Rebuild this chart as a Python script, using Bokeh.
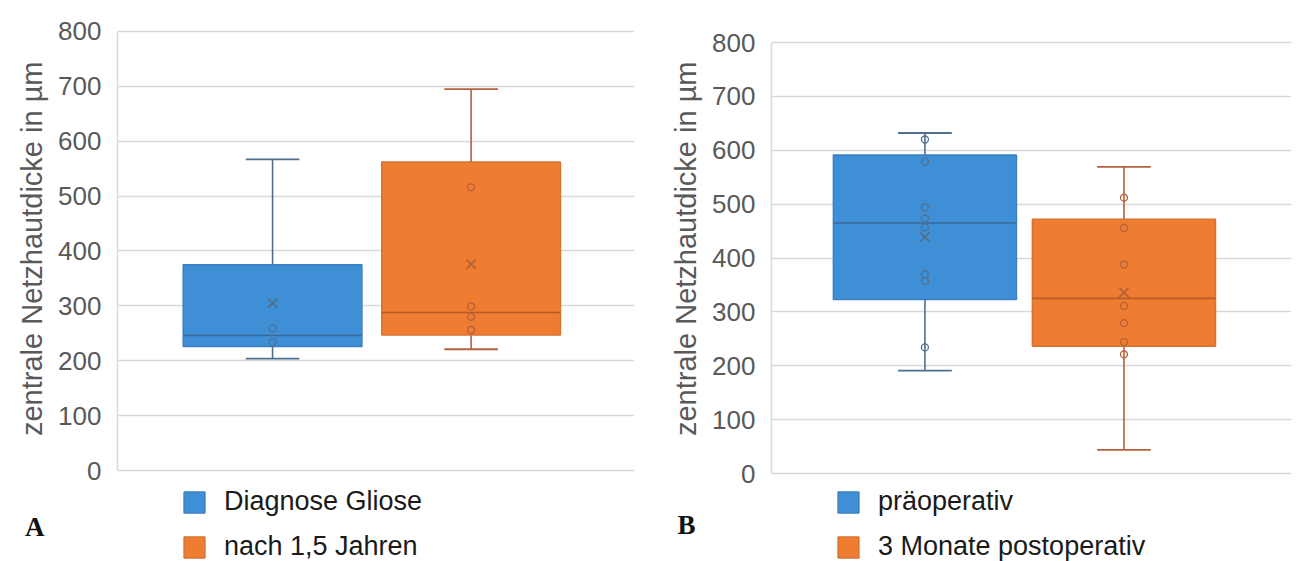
from bokeh.plotting import figure
from bokeh.layouts import row
from bokeh.models import Range1d, FixedTicker, Legend, LegendItem, LinearAxis
from bokeh.embed import file_html
from bokeh.resources import INLINE

# ---------------- data ----------------
y_ticks = [0, 100, 200, 300, 400, 500, 600, 700, 800]
y_title = "zentrale Netzhautdicke in µm"

categories_A = ["Diagnose Gliose", "nach 1,5 Jahren"]
q1_A = [226, 247]
median_A = [246, 288]
q3_A = [375, 562]
lower_A = [204, 221]
upper_A = [567, 695]
mean_A = [305, 376]
points_A = [[259, 234], [516, 299, 280, 256]]

categories_B = ["präoperativ", "3 Monate postoperativ"]
q1_B = [323, 236]
median_B = [465, 325]
q3_B = [591, 472]
lower_B = [191, 44]
upper_B = [632, 569]
mean_B = [439, 336]
points_B = [[620, 579, 494, 473, 457, 370, 357, 234],
            [512, 456, 388, 311, 279, 244, 221]]

panel_letters = ["A", "B"]

# ---------------- style ----------------
FILL = ["#3f8fd6", "#ee7d31"]
EDGE = ["#3a7fc2", "#d8722e"]
DARK = ["#4f6f8f", "#b5603a"]
MED = ["#3a6a98", "#b85a2a"]
FONT = "Liberation Sans"
# non-breaking spaces shift the centred axis title towards the top
TITLE_PAD = "\u00a0" * 8


def make_panel(cats, q1, med, q3, lo, hi, mean, pts, letter, width,
               y_lim, x_lim, bl, br, box_w, legend_xy, letter_y, letter_off):
    p = figure(width=width, height=561, output_backend="svg",
               toolbar_location=None, x_axis_location=None,
               x_range=Range1d(*x_lim), y_range=Range1d(*y_lim),
               min_border_left=bl, min_border_right=br,
               min_border_top=0, min_border_bottom=0)
    p.outline_line_color = None
    p.background_fill_color = "white"
    p.border_fill_color = "white"
    p.xgrid.visible = False
    p.ygrid.ticker = FixedTicker(ticks=y_ticks)
    p.ygrid.grid_line_color = "#d9d9d9"
    p.ygrid.grid_line_width = 1.5
    ax = p.yaxis[0]
    ax.ticker = FixedTicker(ticks=y_ticks)
    ax.bounds = (y_ticks[0], y_ticks[-1])
    ax.major_label_text_font = FONT
    ax.major_label_text_font_size = "26px"
    ax.major_label_text_color = "#595959"
    ax.major_tick_line_color = None
    ax.minor_tick_line_color = None
    ax.major_tick_out = 0
    ax.major_tick_in = 0
    ax.major_label_standoff = 16
    ax.axis_line_color = "#d9d9d9"
    ax.axis_line_width = 1.5
    ax.axis_label = TITLE_PAD + y_title
    ax.axis_label_text_font = FONT
    ax.axis_label_text_font_size = "29px"
    ax.axis_label_text_font_style = "normal"
    ax.axis_label_text_color = "#595959"
    ax.axis_label_standoff = 7

    # panel letter, shown as the single label of an outer axis
    ax2 = LinearAxis(ticker=FixedTicker(ticks=[letter_y]),
                     major_label_overrides={letter_y: letter},
                     axis_line_color=None, major_tick_line_color=None,
                     minor_tick_line_color=None, major_tick_out=0,
                     major_tick_in=0, major_label_standoff=letter_off,
                     major_label_text_font="Liberation Serif",
                     major_label_text_font_style="bold",
                     major_label_text_font_size="27px",
                     major_label_text_color="#111111")
    p.add_layout(ax2, "left")

    xs = [i + 1 for i in range(len(cats))]
    cap = 0.135
    items = []
    for i, x in enumerate(xs):
        p.segment(x0=[x, x], y0=[q3[i], q1[i]], x1=[x, x], y1=[hi[i], lo[i]],
                  line_color=DARK[i], line_width=1.6)
        p.segment(x0=[x - cap, x - cap], y0=[hi[i], lo[i]],
                  x1=[x + cap, x + cap], y1=[hi[i], lo[i]],
                  line_color=DARK[i], line_width=1.8)
        r = p.vbar(x=[x], width=box_w, bottom=[q1[i]], top=[q3[i]],
                   fill_color=FILL[i], line_color=EDGE[i], line_width=1.5)
        p.segment(x0=[x - box_w / 2], y0=[med[i]], x1=[x + box_w / 2],
                  y1=[med[i]], line_color=MED[i], line_width=1.6)
        p.scatter(x=[x] * len(pts[i]), y=pts[i], marker="circle", size=7,
                  fill_alpha=0, line_color=DARK[i], line_width=1.3)
        p.scatter(x=[x], y=[mean[i]], marker="x", size=13,
                  line_color=DARK[i], line_width=1.8)
        items.append(LegendItem(label=cats[i], renderers=[r]))

    leg = Legend(items=items, location=legend_xy, orientation="vertical",
                 padding=0, margin=0, spacing=14, glyph_width=26,
                 glyph_height=26, label_height=31, label_standoff=17,
                 label_text_font=FONT, label_text_font_size="27px",
                 label_text_color="#1a1a1a", border_line_color=None,
                 background_fill_alpha=0)
    p.add_layout(leg)
    return p


pA = make_panel(categories_A, q1_A, median_A, q3_A, lower_A, upper_A, mean_A,
                points_A, panel_letters[0], 645, (-165.83, 856.49),
                (0.219, 2.823), 117, 11, 0.90, (64, -1), -103, -31)
pB = make_panel(categories_B, q1_B, median_B, q3_B, lower_B, upper_B, mean_B,
                points_B, panel_letters[1], 656, (-163.34, 877.96),
                (0.229, 2.842), 126, 10, 0.92, (64, -1), -95, -28)

layout = row(pA, pB, spacing=0)
open("out.html", "w").write(file_html(layout, INLINE))
